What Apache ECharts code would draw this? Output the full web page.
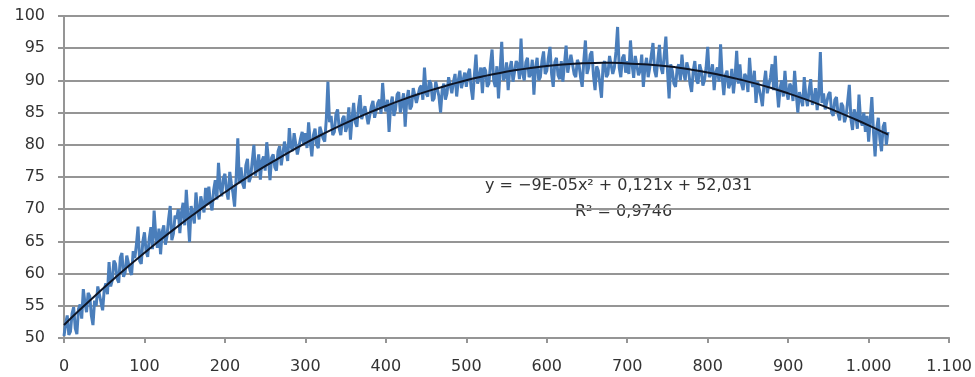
<!DOCTYPE html>
<html>
<head>
<meta charset="utf-8">
<script src="https://cdn.jsdelivr.net/npm/echarts@6/dist/echarts.min.js"></script>
<style>
  html, body { margin: 0; padding: 0; background: #fff; }
  #chart { width: 975px; height: 377px; }
</style>
</head>
<body>
<div id="chart"></div>
<script>
// measured series, one reading every 2 x-units (0..1024), one row = 20 x-units
const sampleStep = 2;
const measured = [
  50.3, 52.2, 53.5, 50.5, 51.0, 53.8, 54.8, 51.5, 50.6, 54.5,
  55.2, 53.0, 57.6, 55.5, 54.0, 57.0, 56.5, 53.5, 52.0, 55.8,
  55.0, 58.0, 57.8, 55.5, 54.3, 57.5, 58.5, 56.8, 61.8, 58.0,
  59.0, 62.0, 61.5, 59.2, 58.6, 62.5, 63.2, 59.5, 60.2, 62.8,
  63.0, 60.5, 59.8, 63.5, 62.4, 64.5, 67.3, 62.0, 61.5, 65.0,
  66.4, 63.5, 62.6, 65.5, 67.2, 63.8, 69.8, 66.0, 64.0, 67.0,
  63.0, 66.5, 67.5, 64.5, 65.8, 68.5, 70.5, 65.2, 66.2, 69.0,
  68.5, 70.0, 66.3, 69.5, 71.0, 67.5, 73.0, 69.0, 64.9, 70.5,
  70.3, 67.8, 72.6, 70.0, 68.4, 72.0, 71.8, 69.5, 73.3, 70.8,
  73.5, 71.0, 69.8, 73.0, 74.5, 71.5, 77.2, 73.5, 72.0, 74.8,
  75.5, 72.8, 71.5, 75.8, 74.0, 72.5, 70.4, 75.0, 81.0, 74.0,
  76.5, 74.0, 73.2, 76.8, 77.8, 74.2, 75.0, 77.5, 80.0, 75.2,
  76.8, 78.5, 74.6, 77.5, 78.2, 76.0, 80.4, 77.8, 74.5, 78.0,
  78.5, 76.5, 76.0, 79.0, 79.8, 76.8, 77.0, 80.5, 80.2, 77.5,
  82.6, 79.8, 79.0, 81.8, 81.5, 78.5, 78.8, 81.0, 82.0, 80.0,
  81.8, 79.5, 83.5, 80.5, 78.2, 81.5, 82.5, 80.0, 79.5, 82.8,
  83.0, 81.0, 80.5, 84.0, 89.8, 83.5, 84.5, 81.5, 82.0, 84.8,
  85.5, 82.5, 81.5, 84.0, 84.5, 82.0, 83.0, 85.8, 80.8, 84.2,
  86.5, 83.5, 82.8, 85.8, 87.7, 84.0, 84.2, 86.0, 85.8, 83.2,
  83.5, 86.0, 86.8, 84.2, 84.0, 86.5, 87.0, 84.8, 89.6, 86.2,
  85.2, 87.0, 82.0, 86.2, 87.5, 84.5, 85.5, 87.8, 88.2, 85.0,
  86.5, 88.0, 82.8, 87.0, 88.5, 85.5, 86.0, 88.8, 89.0, 86.5,
  86.5, 88.8, 89.2, 87.0, 92.0, 88.0, 87.5, 90.0, 89.5, 86.8,
  87.2, 89.8, 90.0, 87.5, 85.0, 88.5, 89.5, 87.0, 88.0, 90.5,
  90.5, 88.0, 89.8, 91.0, 87.5, 90.0, 91.5, 88.8, 88.5, 91.2,
  89.0, 91.0, 91.8, 88.8, 87.0, 90.8, 94.0, 89.5, 90.5, 92.0,
  88.0, 92.0, 91.5, 89.0, 89.5, 92.5, 94.8, 90.0, 89.0, 92.2,
  87.2, 91.5, 96.0, 90.0, 90.5, 92.8, 88.5, 91.8, 93.0, 89.8,
  89.5, 93.0, 92.5, 90.2, 96.5, 91.0, 90.0, 92.8, 93.5, 90.5,
  91.0, 93.2, 87.8, 92.0, 93.5, 90.0, 90.5, 93.0, 94.5, 91.0,
  91.5, 93.5, 95.2, 91.0, 89.0, 92.8, 93.5, 90.8, 90.2, 93.0,
  89.8, 92.5, 95.4, 91.2, 91.0, 94.0, 93.8, 91.0, 90.5, 93.2,
  92.5, 90.5, 89.0, 93.0, 96.2, 91.0, 92.0, 94.0, 94.5, 90.8,
  88.5, 92.2, 91.5, 89.5, 87.3, 92.5, 93.0, 90.5, 91.0, 93.8,
  94.0, 91.0, 92.0, 94.5, 98.3, 92.0, 90.5, 93.5, 94.0, 91.2,
  93.0, 91.0, 96.2, 92.5, 90.4, 93.8, 93.5, 90.8, 91.5, 94.0,
  89.0, 92.0, 93.5, 90.5, 92.0, 94.0, 95.8, 91.5, 90.5, 93.2,
  95.5, 92.0, 91.0, 94.0, 96.8, 91.5, 87.2, 92.5, 91.5, 89.5,
  89.0, 91.8, 92.5, 90.0, 94.0, 91.2, 90.0, 92.8, 91.8, 89.5,
  88.2, 91.5, 93.0, 90.0, 89.5, 92.5, 91.5, 89.2, 90.0, 92.0,
  95.2, 90.5, 91.0, 92.5, 88.5, 91.2, 92.0, 89.8, 95.6, 90.5,
  87.7, 90.8, 91.5, 88.8, 89.5, 91.8, 88.0, 90.5, 94.6, 89.5,
  92.5, 89.5, 88.5, 91.0, 90.5, 88.2, 93.5, 90.0, 89.0, 91.5,
  86.5, 89.8, 90.0, 87.5, 86.0, 89.5, 91.5, 88.0, 88.0, 90.5,
  92.5, 88.5, 93.8, 89.0, 85.8, 88.8, 90.0, 87.5, 91.5, 88.2,
  87.0, 89.5, 89.0, 86.8, 91.5, 88.0, 85.0, 88.2, 88.5, 86.0,
  90.5, 87.5, 86.0, 88.5, 90.2, 86.2, 87.0, 88.8, 85.4, 87.8,
  94.4, 86.5, 88.0, 85.5, 85.8, 87.8, 88.2, 85.0, 84.5, 87.0,
  87.4, 84.8, 83.8, 86.5, 86.0, 83.5, 84.5, 86.8, 89.3, 84.0,
  82.3, 85.5, 84.5, 82.5, 87.8, 83.8, 83.0, 85.0, 82.0, 84.5,
  80.5, 84.0, 87.4, 82.0, 78.2, 82.5, 84.2, 80.8, 79.0, 82.8,
  83.5, 80.0, 82.0
];

// polynomial trend line, read every 20 x-units
const trendX = [0, 20, 40, 60, 80, 100, 120, 140, 160, 180, 200, 220, 240, 260, 280, 300,
  320, 340, 360, 380, 400, 420, 440, 460, 480, 500, 520, 540, 560, 580, 600, 620, 640, 660,
  680, 700, 720, 740, 760, 780, 800, 820, 840, 860, 880, 900, 920, 940, 960, 980, 1000, 1020, 1024];
const trendY = [52.03, 54.41, 56.73, 58.97, 61.15, 63.23, 65.25, 67.20, 69.09, 70.90, 72.63,
  74.31, 75.91, 77.41, 78.87, 80.25, 81.56, 82.79, 83.94, 85.03, 86.03, 86.97, 87.84, 88.63,
  89.35, 90.03, 90.60, 91.12, 91.57, 91.94, 92.23, 92.48, 92.64, 92.72, 92.73, 92.63, 92.50,
  92.32, 92.04, 91.67, 91.23, 90.72, 90.14, 89.50, 88.78, 87.99, 87.13, 86.20, 85.20, 84.14,
  83.03, 81.84, 81.57];

const eqText = 'y = \u22129E-05x\u00b2 + 0,121x + 52,031';
const r2Text = 'R\u00b2 = 0,9746';

const font = '"DejaVu Sans", Verdana, sans-serif';
const gridColor = '#959595';

const chart = echarts.init(document.getElementById('chart'));

const fmtThousands = v => String(v).replace(/\B(?=(\d{3})+(?!\d))/g, '.');

chart.setOption({
  animation: false,
  backgroundColor: '#fff',
  grid: { left: 64, right: 25, top: 16, bottom: 39 },
  xAxis: {
    type: 'value',
    min: 0,
    max: 1100,
    interval: 100,
    axisLine: { show: true, lineStyle: { color: gridColor, width: 2 } },
    axisTick: { show: true, length: 5, lineStyle: { color: gridColor, width: 2 } },
    splitLine: { show: false },
    axisLabel: { color: '#333', fontFamily: font, fontSize: 16, margin: 21, formatter: fmtThousands }
  },
  yAxis: {
    type: 'value',
    min: 50,
    max: 100,
    interval: 5,
    axisLine: { show: true, lineStyle: { color: gridColor, width: 2 } },
    axisTick: { show: true, length: 6, lineStyle: { color: gridColor, width: 2 } },
    splitLine: { show: true, lineStyle: { color: gridColor, width: 2 } },
    axisLabel: { color: '#333', fontFamily: font, fontSize: 16, margin: 19 }
  },
  series: [
    {
      type: 'line',
      data: measured.map((v, i) => [i * sampleStep, v]),
      showSymbol: false,
      lineStyle: { color: '#4a7ebb', width: 3 },
      z: 2
    },
    {
      type: 'line',
      data: trendX.map((x, i) => [x, trendY[i]]),
      smooth: true,
      showSymbol: false,
      lineStyle: { color: '#0e1525', width: 2 },
      z: 3
    }
  ],
  graphic: [
    {
      type: 'text', left: 485, top: 178,
      style: { text: eqText, fill: '#333', font: '16px ' + font }
    },
    {
      type: 'text', left: 575, top: 204,
      style: { text: r2Text, fill: '#333', font: '16px ' + font }
    }
  ]
});
</script>
</body>
</html>
